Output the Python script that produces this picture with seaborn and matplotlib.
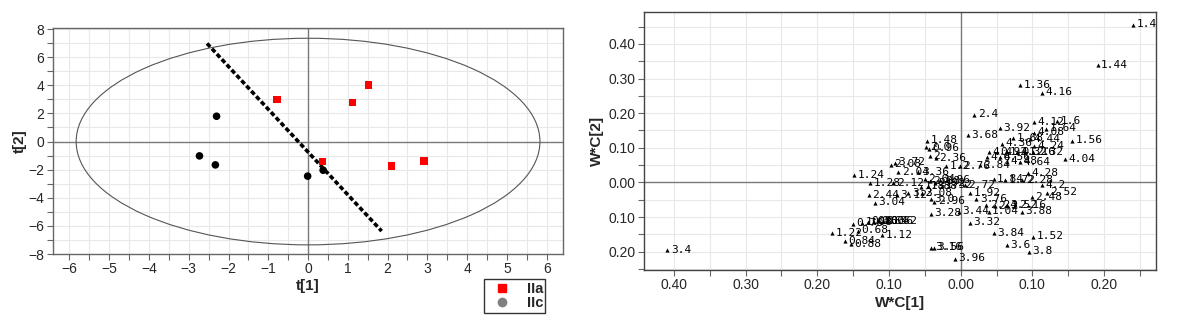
import matplotlib
matplotlib.use("Agg")
import matplotlib.pyplot as plt
import numpy as np
import pandas as pd
import seaborn as sns
from matplotlib.patches import Ellipse
from matplotlib.lines import Line2D
from matplotlib.ticker import MultipleLocator, FixedLocator, FixedFormatter

# ---------------- data: score plot (left) ----------------
score_groups = ["IIa"] * 6 + ["IIc"] * 5
score_t1 = [-0.78, 1.12, 1.52, 0.36, 2.10, 2.92, -2.30, -2.73, -2.33, -0.01, 0.38]
score_t2 = [3.00, 2.77, 4.02, -1.42, -1.75, -1.37, 1.80, -1.02, -1.66, -2.46, -2.04]
ellipse_half_t1 = 5.83
ellipse_half_t2 = 7.35
split_t1 = [-2.54, 1.85]
split_t2 = [6.98, -6.37]
score_xticks = list(range(-6, 7))
score_yticks = list(range(-8, 9, 2))

# ---------------- data: loading plot (right) ----------------
load_labels = [
    "1.4", "1.44", "1.36", "4.16", "2.4", "4.12", "1.6", "3.92", "1.64", "4.08",
    "3.68", "1.68", "4.44", "4.36", "4.24", "1.56", "1.48", "2.0", "0.96", "2",
    "2.36", "1.2", "2.76", "2.84", "4.64", "4.48", "4.6", "4.56", "4.4", "0.92",
    "1.0", "4.32", "1.16", "2.32", "4.04", "1.24", "2.08", "3.72", "2.04", "3.36",
    "1.28", "2.12", "2.64", "2.88", "2.92", "1.96", "1.88", "1.8", "1.32", "2.72",
    "1.92", "3.76", "1.84", "1.72", "2.28", "4.28", "4.2", "2.52", "2.48", "2.2",
    "3.52", "2.16", "2.24", "3.44", "1.04", "3.88", "3.28", "3.32", "3.84", "1.52",
    "3.6", "3.8", "3.96", "3.16", "3.56", "1.12", "1.08", "0.76", "0.80", "0.60",
    "0.64", "0.56", "0.52", "1.22", "0.68", "0.84", "0.88", "3.4", "2.44", "3.04",
    "3.12", "3.2", "3.08", "2.96", "3.0",
]
load_w1 = [
    0.240, 0.191, 0.083, 0.114, 0.019, 0.102, 0.134, 0.055, 0.119, 0.102,
    0.010, 0.073, 0.097, 0.058, 0.102, 0.155, -0.047, -0.048, -0.044, -0.043,
    -0.035, -0.020, -0.001, 0.027, 0.083, 0.064, 0.037, 0.055, 0.039, 0.050,
    0.064, 0.078, 0.090, 0.101, 0.146, -0.149, -0.097, -0.092, -0.087, -0.059,
    -0.126, -0.094, -0.050, -0.043, -0.036, -0.029, -0.046, -0.055, -0.026, 0.006,
    0.013, 0.022, 0.046, 0.062, 0.086, 0.094, 0.113, 0.120, 0.099, 0.048,
    0.064, 0.076, 0.036, -0.003, 0.039, 0.085, -0.042, 0.013, 0.046, 0.101,
    0.064, 0.095, -0.008, -0.041, -0.037, -0.110, -0.137, -0.150, -0.129, -0.121,
    -0.116, -0.108, -0.103, -0.179, -0.143, -0.161, -0.153, -0.409, -0.128, -0.120,
    -0.089, -0.073, -0.054, -0.037, -0.042,
]
load_w2 = [
    0.456, 0.338, 0.280, 0.259, 0.195, 0.174, 0.177, 0.156, 0.155, 0.144,
    0.136, 0.128, 0.125, 0.112, 0.105, 0.121, 0.120, 0.102, 0.097, 0.076,
    0.070, 0.047, 0.047, 0.050, 0.058, 0.060, 0.073, 0.073, 0.088, 0.088,
    0.088, 0.088, 0.088, 0.088, 0.067, 0.021, 0.051, 0.057, 0.029, 0.029,
    -0.003, -0.003, 0.010, 0.004, -0.002, 0.007, -0.011, -0.013, -0.010, -0.008,
    -0.032, -0.049, 0.009, 0.007, 0.007, 0.026, -0.008, -0.030, -0.042, -0.068,
    -0.066, -0.066, -0.066, -0.085, -0.085, -0.085, -0.090, -0.117, -0.147, -0.157,
    -0.181, -0.200, -0.220, -0.189, -0.189, -0.152, -0.117, -0.119, -0.114, -0.114,
    -0.112, -0.112, -0.112, -0.146, -0.139, -0.170, -0.178, -0.195, -0.037, -0.059,
    -0.037, -0.032, -0.032, -0.056, -0.049,
]
load_xticks = [-0.4, -0.3, -0.2, -0.1, 0.0, 0.1, 0.2]
load_xticklabels = ["0.40", "0.30", "0.20", "0.10", "0.00", "0.10", "0.20"]
load_yticks = [0.4, 0.3, 0.2, 0.1, 0.0, -0.1, -0.2]
load_yticklabels = ["0.40", "0.30", "0.20", "0.10", "0.00", "0.10", "0.20"]

# ---------------- style ----------------
sns.set_theme(style="white")
plt.rcParams["font.family"] = ["Liberation Sans", "DejaVu Sans"]

W, H = 1180, 320
fig = plt.figure(figsize=(W / 100, H / 100), dpi=100)
fig.patch.set_facecolor("white")

grid_kw = dict(color="#e8e8e8", linewidth=0.8)

# ---------------- left: scores ----------------
ax1 = fig.add_axes([52.7 / W, 1 - 254 / H, (563.4 - 52.7) / W, (254 - 27.7) / H])
scores = pd.DataFrame({"t1": score_t1, "t2": score_t2, "group": score_groups})
ax1.set_xlim(-6.42, 6.42)
ax1.set_ylim(-8.0, 8.1)
ax1.xaxis.set_major_locator(FixedLocator(score_xticks))
ax1.xaxis.set_minor_locator(MultipleLocator(0.5))
ax1.yaxis.set_major_locator(FixedLocator(score_yticks))
ax1.yaxis.set_minor_locator(MultipleLocator(1))
ax1.grid(which="both", **grid_kw)
ax1.set_axisbelow(True)
ax1.axhline(0, color="#7a7a7a", lw=1.0, zorder=1)
ax1.axvline(0, color="#7a7a7a", lw=1.0, zorder=1)
ax1.add_patch(Ellipse((0, 0), 2 * ellipse_half_t1, 2 * ellipse_half_t2,
                      fill=False, edgecolor="#555555", lw=0.8, zorder=2))
ax1.plot(split_t1, split_t2, color="black", lw=2.6,
         linestyle=(0, (1.3, 0.7)), zorder=3, solid_capstyle="butt")
sns.scatterplot(data=scores, x="t1", y="t2", hue="group", style="group",
                palette={"IIa": "#ff0000", "IIc": "#000000"},
                markers={"IIa": "s", "IIc": "o"}, s=30, linewidth=0,
                legend=False, ax=ax1, zorder=4)
ax1.set_xlabel("t[1]", fontsize=11, fontweight="bold", labelpad=2)
ax1.set_ylabel("t[2]", fontsize=11, fontweight="bold", labelpad=1)
ax1.tick_params(which="both", direction="out", length=4, width=0.8,
                color="#666666", labelsize=10, pad=2, bottom=True, left=True)
ax1.tick_params(which="minor", length=4)
for sp in ax1.spines.values():
    sp.set_color("#666666")
    sp.set_linewidth(1.0)

handles = [
    Line2D([], [], marker="s", color="#ff0000", linestyle="none", markersize=6),
    Line2D([], [], marker="o", color="#808080", linestyle="none", markersize=6),
]
leg = fig.legend(handles, ["IIa", "IIc"], loc="center",
                 bbox_to_anchor=(514.5 / W, 1 - 296 / H),
                 frameon=True, fancybox=False, edgecolor="black",
                 fontsize=10.5, handlelength=2.2, handletextpad=0.6,
                 labelspacing=0.05, borderpad=0.15, borderaxespad=0)
leg.get_frame().set_linewidth(1.0)
for t in leg.get_texts():
    t.set_fontweight("bold")

# ---------------- right: loadings ----------------
ax2 = fig.add_axes([643.8 / W, 1 - 270 / H, (1156.4 - 643.8) / W, (270 - 11.7) / H])
loads = pd.DataFrame({"w1": load_w1, "w2": load_w2, "label": load_labels})
ax2.set_xlim(-0.442, 0.273)
ax2.set_ylim(-0.253, 0.493)
ax2.xaxis.set_major_locator(FixedLocator(load_xticks))
ax2.xaxis.set_major_formatter(FixedFormatter(load_xticklabels))
ax2.xaxis.set_minor_locator(MultipleLocator(0.05))
ax2.yaxis.set_major_locator(FixedLocator(load_yticks))
ax2.yaxis.set_major_formatter(FixedFormatter(load_yticklabels))
ax2.yaxis.set_minor_locator(MultipleLocator(0.05))
ax2.grid(which="both", **grid_kw)
ax2.set_axisbelow(True)
ax2.axhline(0, color="#7a7a7a", lw=1.0, zorder=1)
ax2.axvline(0, color="#7a7a7a", lw=1.0, zorder=1)
sns.scatterplot(data=loads, x="w1", y="w2", marker="^", color="black",
                s=9, linewidth=0, legend=False, ax=ax2, zorder=3)
for lab, xv, yv in zip(load_labels, load_w1, load_w2):
    ax2.annotate(lab, (xv, yv), xytext=(2.5, 0.3), textcoords="offset points",
                 fontsize=8, family="DejaVu Sans Mono", color="black",
                 va="center", ha="left", zorder=4)
ax2.set_xlabel("W*C[1]", fontsize=11, fontweight="bold", labelpad=3)
ax2.set_ylabel("W*C[2]", fontsize=11, fontweight="bold", labelpad=3)
ax2.tick_params(which="both", direction="out", length=4, width=0.8,
                color="#666666", labelsize=10, pad=2, bottom=True, left=True)
for sp in ax2.spines.values():
    sp.set_color("#444444")
    sp.set_linewidth(1.0)

fig.savefig("out.png", dpi=100, facecolor="white")
